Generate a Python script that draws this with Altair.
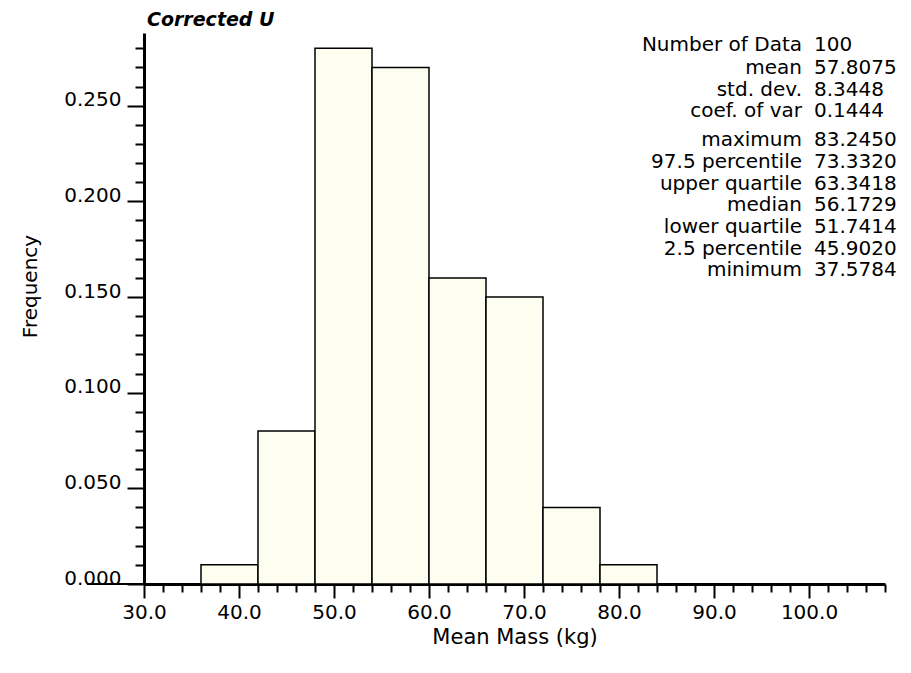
import altair as alt
import pandas as pd

FONT = "DejaVu Sans"

# Histogram data (bin edges in kg, relative frequency)
bin_start = [30, 36, 42, 48, 54, 60, 66, 72, 78, 84, 90, 96, 102]
bin_end = [36, 42, 48, 54, 60, 66, 72, 78, 84, 90, 96, 102, 108]
freq = [0.0, 0.01, 0.08, 0.28, 0.27, 0.16, 0.15, 0.04, 0.01, 0.0, 0.0, 0.0, 0.0]

# Axis ticks
x_major = [30, 40, 50, 60, 70, 80, 90, 100]
x_minor = [v for v in range(32, 109, 2) if v % 10 != 0]
y_major = [0.0, 0.05, 0.10, 0.15, 0.20, 0.25]
y_minor = [round(i * 0.01, 2) for i in range(1, 29) if i % 5 != 0]

# Summary statistics panel
stat_labels = ["Number of Data", "mean", "std. dev.", "coef. of var",
               "maximum", "97.5 percentile", "upper quartile", "median",
               "lower quartile", "2.5 percentile", "minimum"]
stat_values = ["100", "57.8075", "8.3448", "0.1444",
               "83.2450", "73.3320", "63.3418", "56.1729",
               "51.7414", "45.9020", "37.5784"]
stat_group = [0, 1, 1, 1, 2, 2, 2, 2, 2, 2, 2]

hist = pd.DataFrame({"start": bin_start, "end": bin_end, "freq": freq})
stats = pd.DataFrame({"label": stat_labels, "value": stat_values,
                      "row": list(range(len(stat_labels))), "grp": stat_group})

xscale = alt.Scale(domain=[30, 108], nice=False, zero=False)
yscale = alt.Scale(domain=[0, 0.288], nice=False)

bars = alt.Chart(hist).mark_rect(
    fill="#fefef0", stroke="black", strokeWidth=1.5
).encode(
    x=alt.X("start:Q", scale=xscale, title="Mean Mass (kg)",
            axis=alt.Axis(values=x_major, format=".1f", tickSize=14, tickWidth=2,
                          domainWidth=3, domainColor="black", tickColor="black",
                          labelPadding=4, labelFontSize=20, labelFont=FONT,
                          labelColor="black", labelFlush=False, labelOverlap=False,
                          grid=False, titleFontSize=21,
                          titleFont=FONT, titleFontWeight="normal", titleColor="black",
                          titleY=53, titleBaseline="middle")),
    x2="end:Q",
    y=alt.Y("freq:Q", scale=yscale, title="Frequency",
            axis=alt.Axis(values=y_major, format=".3f", tickSize=17, tickWidth=2,
                          domainWidth=3, domainColor="black", tickColor="black",
                          labelPadding=6, labelBaseline="alphabetic",
                          labelFlush=False, labelOverlap=False,
                          labelFontSize=20, labelFont=FONT, labelColor="black",
                          grid=False, titleFontSize=20, titleFont=FONT,
                          titleFontWeight="normal", titleColor="black",
                          titleX=-114, titleY=253, titleAlign="center",
                          titleBaseline="middle", titleAngle=-90)),
    y2=alt.Y2(datum=0),
)

minor = alt.Chart(hist).mark_rect(opacity=0).encode(
    x=alt.X("start:Q", scale=xscale, title=None,
            axis=alt.Axis(values=x_minor, orient="bottom", labels=False, domain=False,
                          tickSize=8, tickWidth=2, tickColor="black", grid=False)),
    y=alt.Y("freq:Q", scale=yscale, title=None,
            axis=alt.Axis(values=y_minor, orient="left", labels=False, domain=False,
                          tickSize=9, tickWidth=2, tickColor="black", grid=False)),
)

zero_line = alt.Chart(pd.DataFrame({"z": [0.0]})).mark_rule(
    color="black", strokeWidth=2
).encode(
    y=alt.Y("z:Q", scale=yscale, axis=None),
    x=alt.value(-57),
    x2=alt.value(0),
)

stat_base = alt.Chart(stats).transform_calculate(
    ypix="12 + datum.row * 21.7 + (datum.grp >= 1 ? 1.3 : 0) + (datum.grp >= 2 ? 7 : 0)"
)

stat_lab = stat_base.mark_text(
    align="right", baseline="middle", fontSize=20, font=FONT, color="black"
).encode(
    x=alt.value(658),
    y=alt.Y("ypix:Q", scale=None, axis=None),
    text="label:N",
)

stat_val = stat_base.mark_text(
    align="left", baseline="middle", fontSize=20, font=FONT, color="black"
).encode(
    x=alt.value(670),
    y=alt.Y("ypix:Q", scale=None, axis=None),
    text="value:N",
)

chart = alt.layer(bars, minor, zero_line, stat_lab, stat_val).resolve_axis(
    x="independent", y="independent"
).properties(
    width=741,
    height=551,
    background="white",
    title=alt.TitleParams("Corrected U", anchor="start", frame="group", fontSize=19,
                          fontStyle="italic", fontWeight="bold", font=FONT,
                          color="black", offset=0, dx=3, dy=-3),
    autosize=alt.AutoSizeParams(type="none"),
    padding={"left": 136, "top": 25, "right": 14, "bottom": 70},
).configure_view(stroke=None)

chart.save("out.html", embed_options={"renderer": "svg", "actions": False})
